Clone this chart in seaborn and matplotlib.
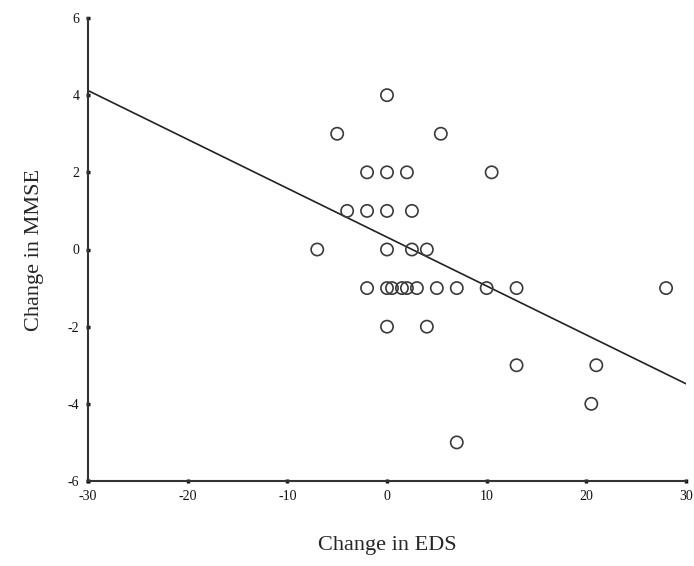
import matplotlib
matplotlib.use("Agg")
import matplotlib.pyplot as plt
import seaborn as sns
import pandas as pd

# Data
eds_change = [0, -5, 5.4, -2, 0, 2, 10.5, -4, -2, 0, 2.5, -7, 0, 2.5, 4,
              -2, 0, 0.5, 1.5, 2, 3, 5, 7, 10, 13, 28, 0, 4, 13, 21, 20.5, 7]
mmse_change = [4, 3, 3, 2, 2, 2, 2, 1, 1, 1, 1, 0, 0, 0, 0,
               -1, -1, -1, -1, -1, -1, -1, -1, -1, -1, -1, -2, -2, -3, -3, -4, -5]
fit_x = [-30, 30]
fit_y = [4.12, -3.48]
x_ticks = [-30, -20, -10, 0, 10, 20, 30]
y_ticks = [-6, -4, -2, 0, 2, 4, 6]

df = pd.DataFrame({"EDS": eds_change, "MMSE": mmse_change})
fit = pd.DataFrame({"x": fit_x, "y": fit_y})

sns.set_style("ticks")
plt.rcParams["font.family"] = ["Liberation Serif", "DejaVu Serif"]

fig = plt.figure(figsize=(6.94, 5.66), dpi=100)
ax = fig.add_axes([88 / 694, 1 - 481 / 566, (686 - 88) / 694, (481 - 18) / 566])

sns.lineplot(data=fit, x="x", y="y", ax=ax, color="#222222", linewidth=1.2)
sns.scatterplot(data=df, x="EDS", y="MMSE", ax=ax, marker="o", s=78,
                facecolor="none", edgecolor="#3a3a3a", linewidth=1.2, zorder=3)

ax.set_xlim(-30, 30)
ax.set_ylim(-6, 6)
ax.set_xticks(x_ticks)
ax.set_yticks(y_ticks)
ax.set_xticklabels([str(t) for t in x_ticks], fontsize=10)
ax.set_yticklabels([str(t) for t in y_ticks], fontsize=10)
ax.tick_params(axis="both", length=2.5, width=2.5, direction="inout", pad=5, colors="#111111")
for s in ["top", "right"]:
    ax.spines[s].set_visible(False)
for s in ["left", "bottom"]:
    ax.spines[s].set_linewidth(1.5)
    ax.spines[s].set_color("#333333")

ax.set_xlabel("Change in EDS", fontsize=16, labelpad=24)
ax.set_ylabel("Change in MMSE", fontsize=16, labelpad=17)

fig.savefig("out.png", dpi=100)
